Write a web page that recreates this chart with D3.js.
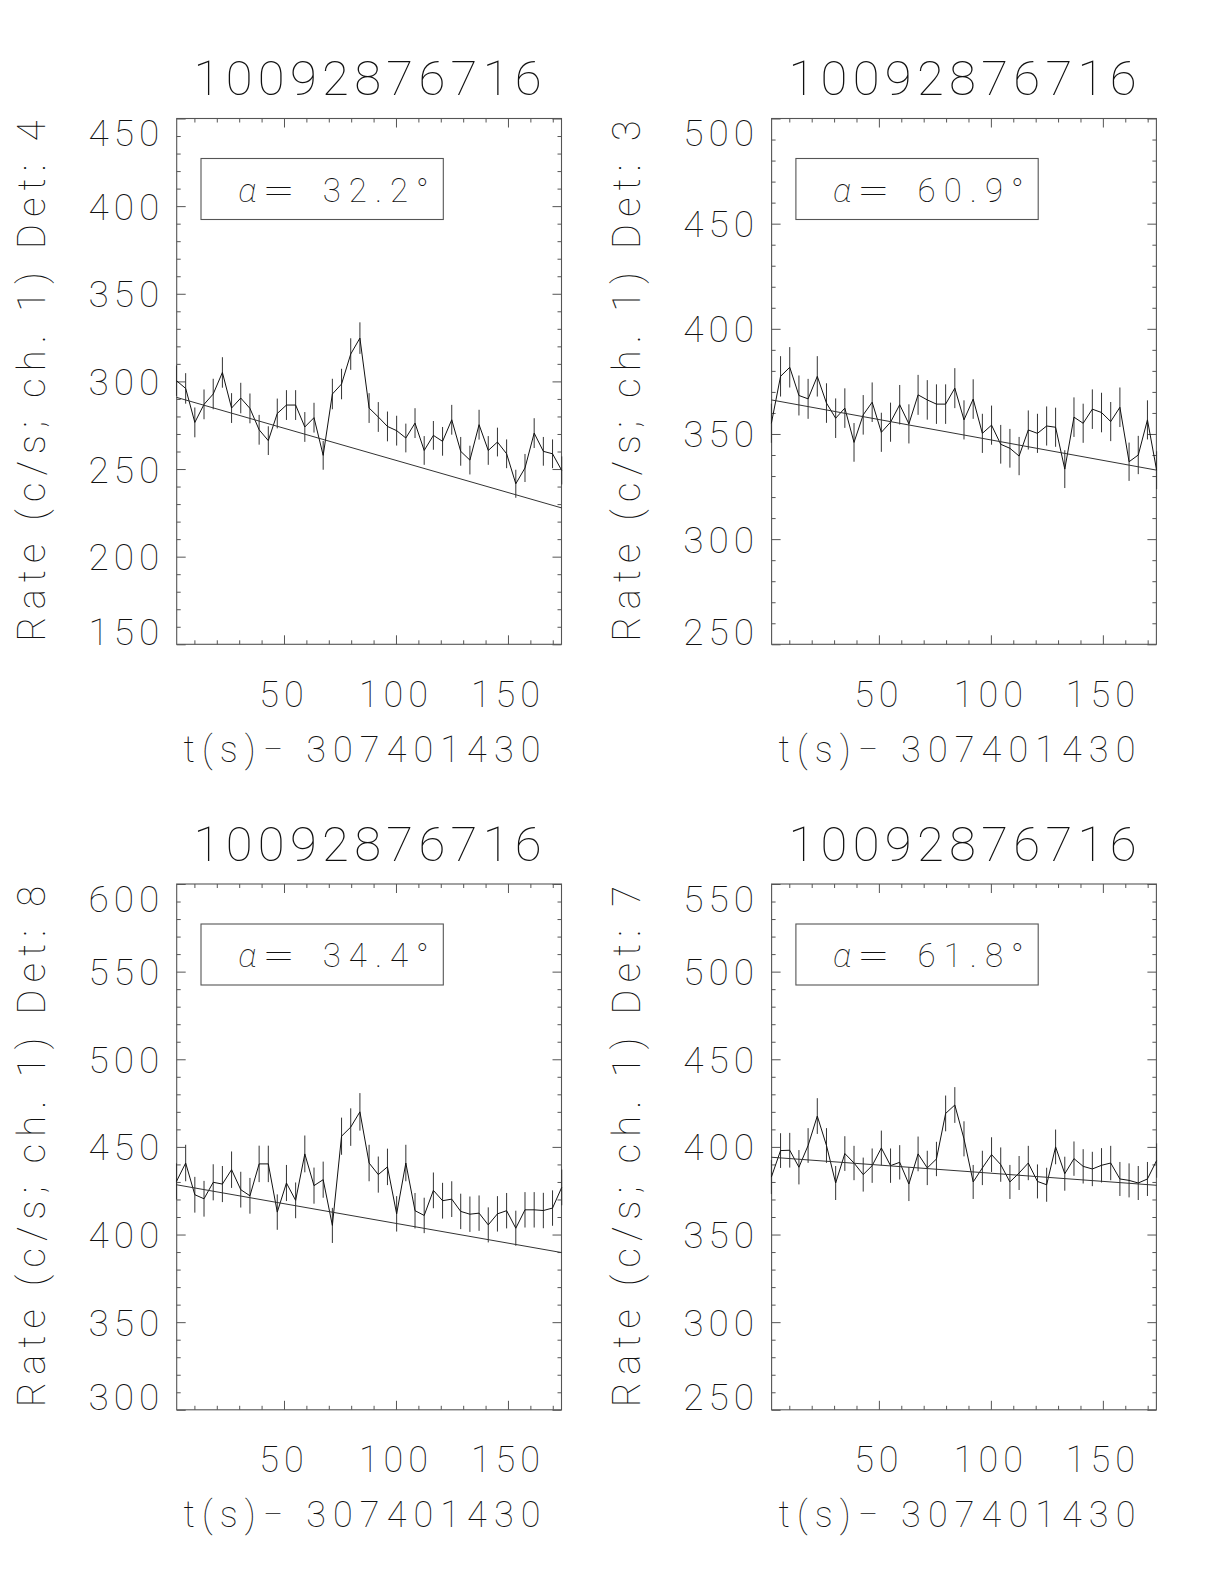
<!DOCTYPE html>
<html><head><meta charset="utf-8">
<script src="https://cdn.jsdelivr.net/npm/d3@7"></script>
<style>
body{margin:0;background:#fff}
text{font-family:Roboto,'Open Sans',sans-serif;font-weight:100;fill:#111}
</style>
</head><body>
<svg id="c" width="1224" height="1584"></svg>
<script>
// ---- data ----
const times = [2.0,6.1,10.2,14.3,18.4,22.5,26.6,30.7,34.8,38.9,43.0,47.0,51.1,55.2,59.3,63.4,67.5,71.6,75.7,79.8,83.9,88.0,92.1,96.2,100.3,104.4,108.5,112.6,116.7,120.8,124.9,128.9,133.0,137.1,141.2,145.3,149.4,153.5,157.6,161.7,165.8,169.9,174.0];
const plotTitle = "10092876716";
const xTitle = "t(s)\u2212 307401430";
const detectors = ["4","3","8","7"];
const alphas = ["32.2","60.9","34.4","61.8"];
const xDomain = [2.1,173.9];
const xTickLabels = [50,100,150];
const yDomains = [[150,450],[250,500],[300,600],[250,550]];
const yTickLabels = [
  [150,200,250,300,350,400,450],
  [250,300,350,400,450,500],
  [300,350,400,450,500,550,600],
  [250,300,350,400,450,500,550]];
const rates4 = [300.4,296.0,276.6,286.9,292.8,305.1,284.8,290.5,284.6,272.4,266.2,281.7,286.5,286.5,274.0,279.3,257.8,292.8,298.5,315.6,324.7,284.8,279.7,274.3,271.9,267.7,276.2,260.6,269.2,265.8,278.1,260.1,255.1,275.3,260.6,265.4,258.7,241.6,250.6,270.5,260.1,258.7,249.2];
const errs4 = [8.7,8.7,8.5,8.5,8.7,8.7,8.5,8.7,8.5,8.5,8.2,8.5,8.5,8.5,8.5,8.5,8.2,8.7,8.7,9.0,9.0,8.5,8.5,8.5,8.5,8.2,8.5,8.2,8.2,8.2,8.5,8.2,8.2,8.5,8.2,8.2,8.2,8.0,8.0,8.5,8.2,8.2,8.0];
const rates3 = [355.1,377.4,381.7,368.3,366.7,377.4,364.7,357.5,362.3,346.0,359.1,365.1,350.8,355.6,363.9,354.8,368.6,366.2,364.2,364.2,371.8,356.7,366.6,350.3,354.2,345.1,343.2,339.5,351.9,350.3,353.8,353.2,333.3,358.0,355.1,361.8,360.2,355.9,362.7,336.8,340.0,356.7,332.8];
const errs3 = [9.3,9.6,9.6,9.5,9.5,9.6,9.4,9.4,9.4,9.2,9.4,9.4,9.3,9.3,9.4,9.3,9.5,9.4,9.4,9.4,9.5,9.3,9.4,9.3,9.3,9.2,9.2,9.1,9.3,9.3,9.3,9.3,9.0,9.4,9.3,9.4,9.4,9.3,9.4,9.1,9.1,9.3,9.0];
const rates8 = [430.3,440.8,422.7,420.4,429.8,428.8,437.0,425.6,422.1,440.3,440.3,412.8,429.4,419.5,446.0,427.9,431.3,405.2,456.1,461.3,470.0,440.8,434.2,438.6,411.8,440.8,413.6,410.9,425.2,419.3,420.2,413.2,411.6,412.2,405.5,411.8,413.6,403.6,414.1,414.1,413.7,415.1,426.9];
const errs8 = [10.3,10.4,10.2,10.2,10.3,10.3,10.4,10.2,10.2,10.4,10.4,10.1,10.3,10.2,10.5,10.3,10.3,10.0,10.6,10.7,10.7,10.4,10.3,10.4,10.1,10.4,10.1,10.1,10.2,10.2,10.2,10.1,10.1,10.1,10.0,10.1,10.1,10.0,10.1,10.1,10.1,10.1,10.2];
const rates7 = [382.8,397.9,398.1,388.4,400.8,417.6,400.8,379.4,396.2,390.8,384.2,389.3,399.4,389.3,391.2,378.8,396.0,388.0,393.1,419.1,423.9,404.6,380.0,388.0,395.6,389.9,380.0,385.1,390.8,380.3,378.4,400.0,384.7,393.3,388.9,387.4,389.5,390.8,381.7,380.9,379.4,381.7,392.2];
const errs7 = [9.7,9.9,9.9,9.8,9.9,10.2,9.9,9.7,9.9,9.8,9.7,9.8,9.9,9.8,9.8,9.7,9.9,9.8,9.8,10.2,10.2,10.0,9.7,9.8,9.9,9.8,9.7,9.7,9.8,9.7,9.7,9.9,9.7,9.8,9.8,9.8,9.8,9.8,9.7,9.7,9.7,9.7,9.8];
const rateSeries = [rates4, rates3, rates8, rates7];
const errSeries = [errs4, errs3, errs8, errs7];
const fitStart = [290.9, 366.2, 428.4, 394.1];
const fitEnd = [227.8, 332.8, 389.7, 378.1];

// ---- layout ----
const lefts = [176.7, 771.6];
const tops = [118.5, 884];
const W = 384.8, H = 525.8;
const svg = d3.select("#c");

for (let p = 0; p < 4; p++) {
  const L = lefts[p % 2], T = tops[Math.floor(p / 2)];
  const g = svg.append("g").attr("transform", `translate(${L},${T})`);
  const x = d3.scaleLinear().domain(xDomain).range([0, W]);
  const y = d3.scaleLinear().domain(yDomains[p]).range([H, 0]);

  // frame
  g.append("rect").attr("width", W).attr("height", H)
    .attr("fill", "none").attr("stroke", "#555").attr("stroke-width", 1.1);

  const xMinor = d3.range(10, 180, 10).filter(v => v > xDomain[0] && v < xDomain[1] && v % 50 !== 0);
  const xMajor = d3.range(50, 180, 50).filter(v => v > xDomain[0] && v < xDomain[1]);
  const yd = yDomains[p];
  const yMinor = d3.range(yd[0], yd[1] + 1, 10).filter(v => v % 50 !== 0);
  const yMajor = yTickLabels[p];

  const addAxis = (gen, tr, vals, len) => {
    const a = g.append("g").attr("transform", tr)
      .call(gen.tickValues(vals).tickSize(-len).tickFormat(""));
    a.select(".domain").remove();
    a.selectAll("line").attr("stroke", "#555").attr("stroke-width", 1);
  };
  addAxis(d3.axisBottom(x), `translate(0,${H})`, xMinor, 4);
  addAxis(d3.axisBottom(x), `translate(0,${H})`, xMajor, 9);
  addAxis(d3.axisTop(x), `translate(0,0)`, xMinor, 4);
  addAxis(d3.axisTop(x), `translate(0,0)`, xMajor, 9);
  addAxis(d3.axisLeft(y), `translate(0,0)`, yMinor, 4);
  addAxis(d3.axisLeft(y), `translate(0,0)`, yMajor, 9);
  addAxis(d3.axisRight(y), `translate(${W},0)`, yMinor, 4);
  addAxis(d3.axisRight(y), `translate(${W},0)`, yMajor, 9);

  // x tick labels
  g.selectAll(".xl").data(xTickLabels).enter().append("text")
    .attr("x", d => x(d)).attr("y", H + 62.5)
    .attr("text-anchor", "middle").attr("font-size", 36).attr("letter-spacing", 5)
    .text(d => d);
  // y tick labels (end labels kept inside frame)
  g.selectAll(".yl").data(yMajor).enter().append("text")
    .attr("x", -12.5).attr("y", d => Math.min(Math.max(y(d), 14), H - 13) + 13.5)
    .attr("text-anchor", "end").attr("font-size", 37).attr("letter-spacing", 5)
    .text(d => d);

  // titles
  g.append("text").attr("x", W / 2 - 1.5).attr("y", -23.5)
    .attr("text-anchor", "middle").attr("font-size", 49)
    .attr("textLength", 348).attr("lengthAdjust", "spacing").text(plotTitle);
  g.append("text").attr("x", 185.3).attr("y", H + 117.5)
    .attr("text-anchor", "middle").attr("font-size", 36)
    .attr("textLength", 357).attr("lengthAdjust", "spacing").text(xTitle);
  g.append("text").attr("transform", `translate(-131.5,${H / 2 - 0.5}) rotate(-90)`)
    .attr("text-anchor", "middle").attr("font-size", 38)
    .attr("textLength", 521).attr("lengthAdjust", "spacing")
    .text(`Rate (c/s; ch. 1) Det: ${detectors[p]}`);

  // alpha legend box
  g.append("rect").attr("x", 24.3).attr("y", 40).attr("width", 242.3).attr("height", 61)
    .attr("fill", "none").attr("stroke", "#555").attr("stroke-width", 1.1);
  g.append("text").attr("x", 61.5).attr("y", 83.3).attr("font-size", 34)
    .attr("font-family", "'Noto Sans', Roboto, sans-serif").attr("font-weight", 100)
    .attr("font-style", "italic").text("\u03b1");
  g.append("text").attr("x", 85.5).attr("y", 83.3).attr("font-size", 33)
    .attr("textLength", 33).attr("lengthAdjust", "spacingAndGlyphs").text("=");
  g.append("text").attr("x", 146).attr("y", 83.3).attr("font-size", 33)
    .attr("textLength", 106).attr("lengthAdjust", "spacing").text(`${alphas[p]}\u00b0`);

  const rates = rateSeries[p], errs = errSeries[p];
  const pts = times.map((t, i) => ({ t, v: rates[i], e: errs[i] }));

  // error bars
  g.selectAll(".eb").data(pts).enter().append("line")
    .attr("x1", d => x(d.t)).attr("x2", d => x(d.t))
    .attr("y1", d => y(d.v - d.e)).attr("y2", d => y(d.v + d.e))
    .attr("stroke", "#333").attr("stroke-width", 1);

  // light curve
  g.append("path").datum(pts)
    .attr("d", d3.line().x(d => x(d.t)).y(d => y(d.v)))
    .attr("fill", "none").attr("stroke", "#111").attr("stroke-width", 1);

  // background fit
  const fit = [{ t: times[0], v: fitStart[p] }, { t: times[times.length - 1], v: fitEnd[p] }];
  g.append("path").datum(fit)
    .attr("d", d3.line().x(d => x(d.t)).y(d => y(d.v)))
    .attr("fill", "none").attr("stroke", "#333").attr("stroke-width", 1);
}
</script>
</body></html>
